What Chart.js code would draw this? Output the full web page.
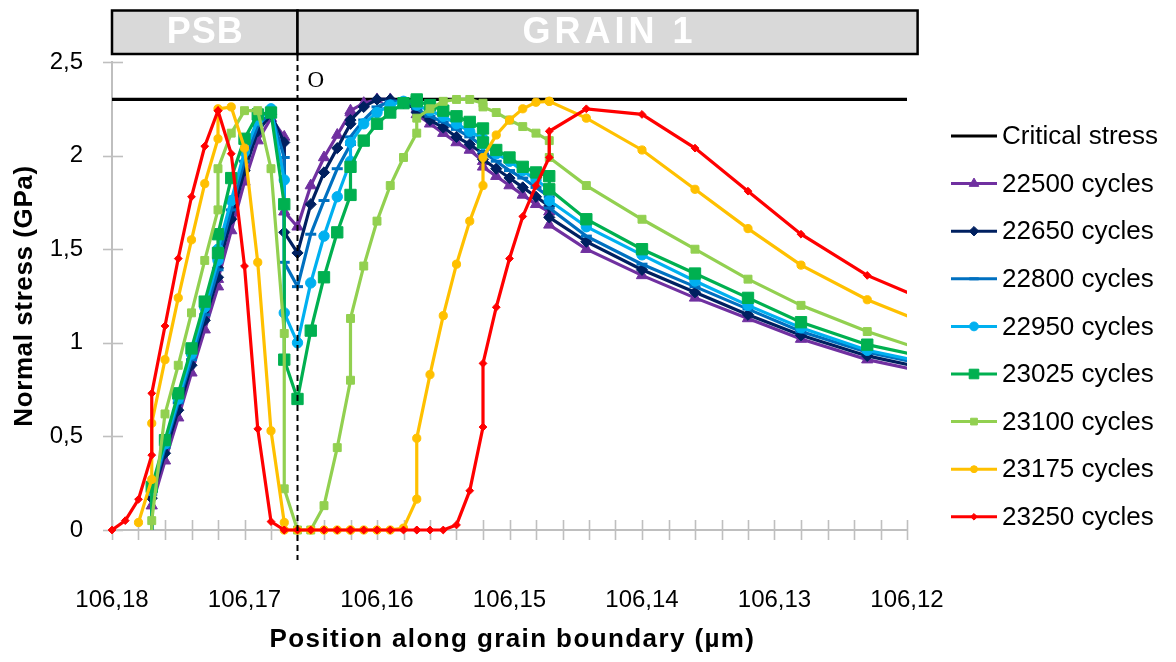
<!DOCTYPE html>
<html>
<head>
<meta charset="utf-8">
<script src="https://cdn.jsdelivr.net/npm/chart.js@4.4.1/dist/chart.umd.min.js"></script>
<style>
html,body{margin:0;padding:0;background:#ffffff;}
#wrap{width:1176px;height:662px;position:relative;}
</style>
</head>
<body>
<div id="wrap"><canvas id="c" width="1176" height="662"></canvas></div>
<script>
// ---------------- DATA ----------------
const positions = [106.180, 106.179, 106.178, 106.177, 106.177, 106.176, 106.175, 106.174, 106.173, 106.172, 106.172,
  106.171, 106.170, 106.169, 106.168, 106.167, 106.167, 106.166, 106.165, 106.164, 106.163, 106.162, 106.162,
  106.161, 106.160, 106.159, 106.158, 106.157, 106.157, 106.156, 106.155, 106.154, 106.153, 106.152, 106.152,
  106.151, 106.150, 106.149, 106.148, 106.147, 106.147, 106.1442, 106.140, 106.136, 106.132, 106.128, 106.123, 106.117];

const criticalPositions = [106.18, 106.12];
const criticalStress = [2.3, 2.3];

const cycles22500 = [null, null, null, 0, 0.13, 0.37, 0.60, 0.84, 1.07, 1.30, 1.34,
  1.60, 1.86, 2.08, 2.20, 2.10, 1.70, 1.62, 1.84, 1.99, 2.11, 2.23, 2.24,
  2.28, 2.30, 2.30, 2.28, 2.25, 2.22, 2.17, 2.12, 2.07, 2.03, 1.97, 1.94,
  1.89, 1.84, 1.79, 1.74, 1.70, 1.63, 1.50, 1.36, 1.24, 1.13, 1.02, 0.91, 0.82];
const cycles22650 = [null, null, null, 0, 0.17, 0.41, 0.64, 0.88, 1.12, 1.35, 1.40,
  1.66, 1.92, 2.13, 2.22, 2.07, 1.59, 1.48, 1.74, 1.91, 2.04, 2.17, 2.19,
  2.26, 2.30, 2.30, 2.28, 2.25, 2.23, 2.19, 2.15, 2.10, 2.06, 2.01, 1.98,
  1.93, 1.88, 1.83, 1.78, 1.73, 1.67, 1.54, 1.39, 1.27, 1.15, 1.04, 0.93, 0.84];
const cycles22800 = [null, null, null, 0, 0.19, 0.44, 0.68, 0.91, 1.15, 1.39, 1.45,
  1.71, 1.97, 2.16, 2.23, 1.99, 1.43, 1.30, 1.58, 1.76, 1.93, 2.06, 2.10,
  2.19, 2.26, 2.29, 2.29, 2.27, 2.25, 2.21, 2.18, 2.14, 2.10, 2.05, 2.02,
  1.97, 1.92, 1.88, 1.83, 1.78, 1.72, 1.57, 1.42, 1.30, 1.18, 1.06, 0.95, 0.86];
const cycles22950 = [null, null, null, 0, 0.21, 0.46, 0.70, 0.94, 1.19, 1.44, 1.50,
  1.76, 2.02, 2.19, 2.25, 1.87, 1.16, 1.00, 1.32, 1.57, 1.78, 1.97, 2.07,
  2.17, 2.23, 2.27, 2.29, 2.29, 2.27, 2.24, 2.21, 2.17, 2.13, 2.09, 2.06,
  2.01, 1.97, 1.92, 1.87, 1.82, 1.76, 1.62, 1.47, 1.33, 1.20, 1.08, 0.96, 0.87];
const cycles23025 = [null, null, null, 0, 0.23, 0.48, 0.73, 0.97, 1.22, 1.48, 1.58,
  1.88, 2.09, 2.22, 2.23, 1.74, 0.91, 0.70, 1.065, 1.35, 1.59, 1.79, 1.94,
  2.08, 2.17, 2.23, 2.28, 2.30, 2.29, 2.27, 2.24, 2.21, 2.18, 2.145, 2.07,
  2.03, 1.99, 1.94, 1.91, 1.89, 1.82, 1.66, 1.50, 1.37, 1.24, 1.11, 0.99, 0.90];
const cycles23100 = [null, null, null, 0, 0.05, 0.62, 0.88, 1.16, 1.44, 1.71, 1.93,
  2.12, 2.24, 2.24, 1.93, 1.05, 0.22, 0, 0, 0.13, 0.44, 0.80, 1.13,
  1.41, 1.65, 1.84, 1.99, 2.12, 2.20, 2.25, 2.29, 2.30, 2.30, 2.28, 2.26,
  2.23, 2.19, 2.155, 2.12, 2.08, 1.99, 1.84, 1.66, 1.50, 1.34, 1.20, 1.06, 0.92];
const cycles23175 = [null, null, 0.04, 0.27, 0.57, 0.91, 1.24, 1.55, 1.85, 2.09, 2.25,
  2.26, 2.04, 1.43, 0.53, 0.04, 0, 0, 0, 0, 0, 0, 0,
  0, 0, 0, 0.01, 0.165, 0.49, 0.83, 1.145, 1.42, 1.65, 1.84, 1.99,
  2.11, 2.19, 2.25, 2.285, 2.29, 2.29, 2.20, 2.03, 1.82, 1.61, 1.415, 1.23, 1.06];
const cycles23250 = [0, 0.05, 0.164, 0.40, 0.73, 1.09, 1.45, 1.78, 2.05, 2.24, 2.24,
  2.01, 1.41, 0.54, 0.045, 0, 0, 0, 0, 0, 0, 0, 0,
  0, 0, 0, 0, 0, 0, 0, 0, 0.027, 0.21, 0.55, 0.89,
  1.19, 1.45, 1.675, 1.84, 1.99, 2.13, 2.25, 2.22, 2.04, 1.81, 1.58, 1.36, 1.18];

const seriesLabels = ['22500 cycles', '22650 cycles', '22800 cycles', '22950 cycles',
  '23025 cycles', '23100 cycles', '23175 cycles', '23250 cycles'];
const seriesValues = [cycles22500, cycles22650, cycles22800, cycles22950,
  cycles23025, cycles23100, cycles23175, cycles23250];

const xMin = 106.12, xMax = 106.18, xStep = 0.002;
const yMin = 0, yMax = 2.5, yStep = 0.5;
const boundaryPosition = 106.166;
const boundaryLabel = 'O';
const zoneLabels = ['PSB', 'GRAIN 1'];
const zoneEdges = [106.18, 106.166, 106.1192];
const xTitle = 'Position along grain boundary (µm)';
const yTitle = 'Normal stress (GPa)';
const criticalLabel = 'Critical stress';

// ---------------- STYLES ----------------
const seriesStyles = [
  {color: '#7030A0', style: 'triangle', r: 6.5, bw: 1},
  {color: '#002060', style: 'rectRot', r: 5.6, bw: 1},
  {color: '#0070C0', style: 'line', r: 5.5, bw: 3},
  {color: '#00B0F0', style: 'circle', r: 5.2, bw: 1},
  {color: '#00B050', style: 'rect', r: 8, bw: 1},
  {color: '#92D050', style: 'rect', r: 5.6, bw: 1},
  {color: '#FFC000', style: 'circle', r: 4.1, bw: 1},
  {color: '#FF0000', style: 'rectRot', r: 3.9, bw: 1}
];

const FONT = '"Liberation Sans", Arial, sans-serif';
Chart.defaults.font.family = FONT;
Chart.defaults.color = '#000000';

const datasets = [{
  label: criticalLabel,
  data: criticalPositions.map((x, i) => ({x: x, y: criticalStress[i]})),
  borderColor: '#000000',
  backgroundColor: '#000000',
  borderWidth: 3.2,
  pointRadius: 0,
  order: 100,
  clip: {left: 0, top: 8, right: 0, bottom: 8}
}];
seriesValues.forEach((vals, i) => {
  const st = seriesStyles[i];
  datasets.push({
    label: seriesLabels[i],
    data: positions.map((x, j) => ({x: x, y: vals[j]})),
    borderColor: st.color,
    backgroundColor: st.color,
    pointBackgroundColor: st.color,
    pointBorderColor: st.color,
    pointStyle: st.style,
    // the starting node that sits on the axis carries no visible marker
    pointRadius: (c) => (c.dataIndex > 0 && vals[c.dataIndex - 1] === null && vals[c.dataIndex] === 0) ? 0 : st.r,
    pointBorderWidth: st.bw,
    pointHoverRadius: st.r,
    borderWidth: 3.2,
    tension: 0,
    spanGaps: true,
    order: 90 - i,
    clip: {left: 8, top: 8, right: 0, bottom: 8}
  });
});

// ---------------- PLUGINS ----------------
const crossTicks = {
  id: 'crossTicks',
  beforeDatasetsDraw(chart) {
    const {ctx, scales: {x, y}} = chart;
    ctx.save();
    ctx.strokeStyle = '#BFBFBF';
    ctx.lineWidth = 1.6;
    x.ticks.forEach(t => {
      const px = Math.round(x.getPixelForValue(t.value)) + 0.5;
      ctx.beginPath(); ctx.moveTo(px, y.bottom - 10); ctx.lineTo(px, y.bottom + 10); ctx.stroke();
    });
    y.ticks.forEach(t => {
      const py = Math.round(y.getPixelForValue(t.value)) + 0.5;
      ctx.beginPath(); ctx.moveTo(x.left - 9, py); ctx.lineTo(x.left + 11, py); ctx.stroke();
    });
    ctx.restore();
  }
};

const decorations = {
  id: 'decorations',
  afterDatasetsDraw(chart) {
    const {ctx, scales: {x, y}} = chart;
    const bx = x.getPixelForValue(boundaryPosition);
    ctx.save();
    ctx.strokeStyle = '#000000';
    ctx.lineWidth = 2;
    ctx.setLineDash([6, 4]);
    ctx.beginPath(); ctx.moveTo(bx, 55); ctx.lineTo(bx, 560); ctx.stroke();
    ctx.setLineDash([]);
    ctx.fillStyle = '#000000';
    ctx.font = '23px "Liberation Serif", "Times New Roman", serif';
    ctx.textAlign = 'left';
    ctx.textBaseline = 'alphabetic';
    ctx.fillText(boundaryLabel, bx + 10, 87);
    ctx.restore();
  },
  afterDraw(chart) {
    const {ctx, scales: {x, y}} = chart;
    ctx.save();
    // banner
    const top = 10.5, bottom = 54;
    const edges = zoneEdges.map(v => x.getPixelForValue(v));
    const spacing = ['1px', '4px'];
    for (let i = 0; i < zoneLabels.length; i++) {
      const l = edges[i], r = edges[i + 1];
      ctx.fillStyle = '#D9D9D9';
      ctx.fillRect(l, top, r - l, bottom - top);
      ctx.strokeStyle = '#000000';
      ctx.lineWidth = 2.5;
      ctx.strokeRect(l, top, r - l, bottom - top);
      ctx.fillStyle = '#FFFFFF';
      ctx.font = 'bold 36px ' + FONT;
      ctx.letterSpacing = spacing[i];
      ctx.textAlign = 'center';
      ctx.textBaseline = 'middle';
      ctx.fillText(zoneLabels[i], (l + r) / 2 + parseFloat(spacing[i]) / 2, (top + bottom) / 2 + 1);
      ctx.letterSpacing = '0px';
    }
    // axis titles
    ctx.fillStyle = '#000000';
    ctx.font = 'bold 26px ' + FONT;
    ctx.letterSpacing = '1.4px';
    ctx.textAlign = 'center';
    ctx.textBaseline = 'middle';
    ctx.fillText(xTitle, (x.left + x.right) / 2 + 3, 640);
    ctx.letterSpacing = '0.6px';
    ctx.translate(25, (y.top + y.bottom) / 2);
    ctx.rotate(-Math.PI / 2);
    ctx.fillText(yTitle, 0, 0);
    ctx.restore();

    // legend
    ctx.save();
    const list = chart.data.datasets;
    const rowY = 136, rowStep = 47.6;
    list.forEach((ds, i) => {
      const cy = rowY + i * rowStep;
      ctx.strokeStyle = ds.borderColor;
      ctx.lineWidth = 3;
      ctx.beginPath(); ctx.moveTo(951, cy); ctx.lineTo(997, cy); ctx.stroke();
      if (i > 0) {
        const st = seriesStyles[i - 1];
        ctx.fillStyle = st.color;
        ctx.strokeStyle = st.color;
        ctx.lineWidth = st.bw;
        Chart.helpers.drawPoint(ctx, {pointStyle: st.style, radius: st.r * 0.85, rotation: 0, borderWidth: st.bw}, 974, cy);
      }
      ctx.fillStyle = '#000000';
      ctx.font = '26px ' + FONT;
      ctx.textAlign = 'left';
      ctx.textBaseline = 'middle';
      ctx.fillText(ds.label, 1002, cy + 1);
    });
    ctx.restore();
  }
};

// ---------------- CHART ----------------
new Chart(document.getElementById('c'), {
  type: 'line',
  data: {datasets: datasets},
  options: {
    responsive: false,
    devicePixelRatio: 1,
    animation: false,
    events: [],
    layout: {padding: {top: 62, right: 269, left: 0, bottom: 0}},
    plugins: {legend: {display: false}, tooltip: {enabled: false}, title: {display: false}},
    scales: {
      x: {
        type: 'linear',
        reverse: true,
        min: xMin,
        max: xMax,
        afterFit: (s) => { s.height = 132; },
        grid: {display: false, drawTicks: false},
        border: {display: true, color: '#BFBFBF', width: 2},
        ticks: {
          stepSize: xStep,
          maxTicksLimit: 100,
          autoSkip: false,
          maxRotation: 0,
          minRotation: 0,
          padding: 56,
          font: {size: 24, family: FONT},
          color: '#000000',
          callback: (v) => {
            const k = Math.round(v * 1000);
            return (k % 10 === 0) ? (k / 1000).toFixed(2).replace('.', ',') : '';
          }
        }
      },
      y: {
        type: 'linear',
        min: yMin,
        max: yMax,
        afterFit: (s) => { s.width = 112; },
        grid: {display: false, drawTicks: false},
        border: {display: true, color: '#BFBFBF', width: 2},
        ticks: {
          stepSize: yStep,
          padding: 29,
          font: {size: 24, family: FONT},
          color: '#000000',
          callback: (v) => String(v).replace('.', ',')
        }
      }
    }
  },
  plugins: [crossTicks, decorations]
});
</script>
</body>
</html>
